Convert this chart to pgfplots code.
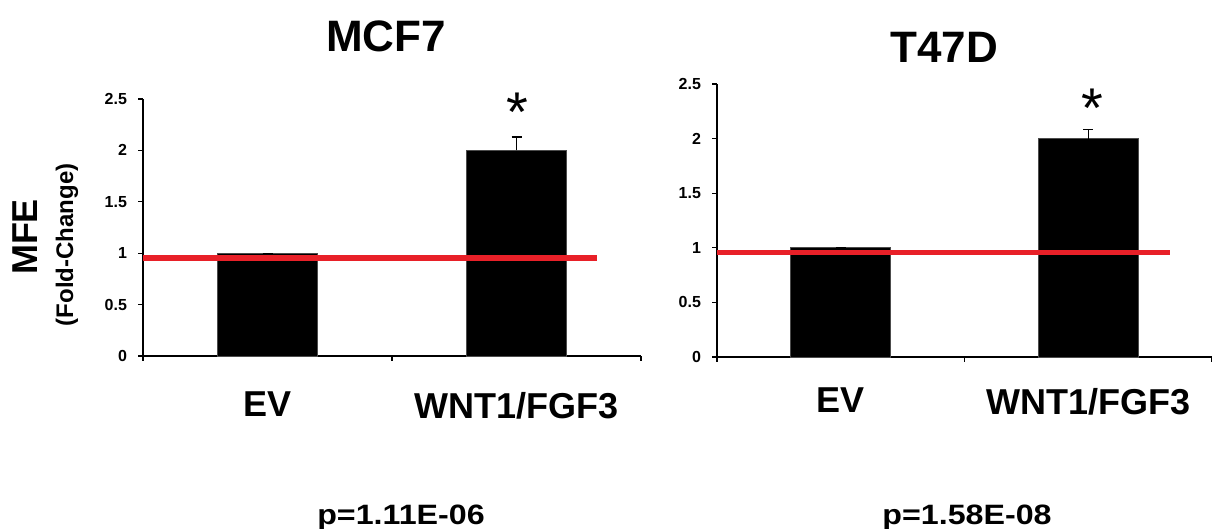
\documentclass[border=0pt]{standalone}
\usepackage{fontspec}
\setmainfont{Liberation Sans}
\usepackage{pgfplots}
\pgfplotsset{compat=1.18}
\definecolor{redline}{RGB}{232,32,40}
\pgfplotsset{
  panel/.style={
    scale only axis,
    anchor=south west,
    xmin=0, xmax=2, ymin=0, ymax=2.5,
    ytick={0,0.5,1,1.5,2,2.5},
    xtick={0.5,1.5},
    xticklabels={EV,WNT1/FGF3},
    minor xtick={0,1,2},
    axis x line*=bottom, axis y line*=left,
    axis line style={-, black, line width=0.6pt},
    tick align=outside,
    major x tick style={draw=none},
    minor tick length=2.5pt,
    major tick length=2.5pt,
    tick style={black, line width=0.6pt},
    /pgf/number format/assume math mode=true,
    yticklabel style={font=\bfseries\fontsize{8}{9}\selectfont, xshift=-2pt},
    xticklabel style={font=\bfseries\fontsize{18}{20}\selectfont, yshift=-12pt},
    clip=false,
  },
  bars/.style={ybar, bar width=50pt, bar shift=0pt, fill=black, draw=gray!60!black, line width=0.4pt,
    error bars/.cd, y dir=plus, y explicit,
    error bar style={black, line width=0.6pt},
    error mark options={rotate=90, mark size=2.5pt, black, line width=0.6pt}},
}
\begin{document}
\begin{tikzpicture}[x=1pt,y=1pt]
\useasboundingbox (0,0) rectangle (606,264.5);
% left panel
\begin{axis}[panel, at={(71.5pt,86.5pt)}, width=249pt, height=128.5pt]
\addplot[bars] coordinates {(0.5,1.00) +- (0,0) (1.5,2.00) +- (0,0.13)};
\addplot[redline, line width=2.6pt] coordinates {(0,0.953) (1.823,0.953)};
\end{axis}
% right panel
\begin{axis}[panel, at={(358.5pt,86pt)}, width=247.5pt, height=136.5pt,
  xticklabel style={yshift=2.5pt}]
\addplot[bars] coordinates {(0.5,1.00) +- (0,0) (1.5,2.00) +- (0,0.085)};
\addplot[redline, line width=2.6pt] coordinates {(0,0.96) (1.83,0.96)};
\end{axis}
% titles
\node[anchor=base, font=\bfseries\fontsize{22}{26}\selectfont] at (193,238.5) {MCF7};
\node[anchor=base, font=\bfseries\fontsize{22}{26}\selectfont] at (472,233) {T47D};
% asterisks
\node[anchor=north, inner sep=0pt, font=\fontsize{28}{30}\selectfont] at (258.5,218) {*};
\node[anchor=north, inner sep=0pt, font=\fontsize{28}{30}\selectfont] at (546,220) {*};
% y label
\node[rotate=90, font=\bfseries\fontsize{18}{20}\selectfont] at (12.5,146) {MFE};
\node[rotate=90, font=\bfseries\fontsize{12}{14}\selectfont] at (33.5,142) {(Fold-Change)};
% p values
\node[anchor=base, xscale=1.15, font=\bfseries\fontsize{14}{16}\selectfont] at (200.5,2) {p=1.11E-06};
\node[anchor=base, xscale=1.15, font=\bfseries\fontsize{14}{16}\selectfont] at (483.5,2) {p=1.58E-08};
\end{tikzpicture}
\end{document}
